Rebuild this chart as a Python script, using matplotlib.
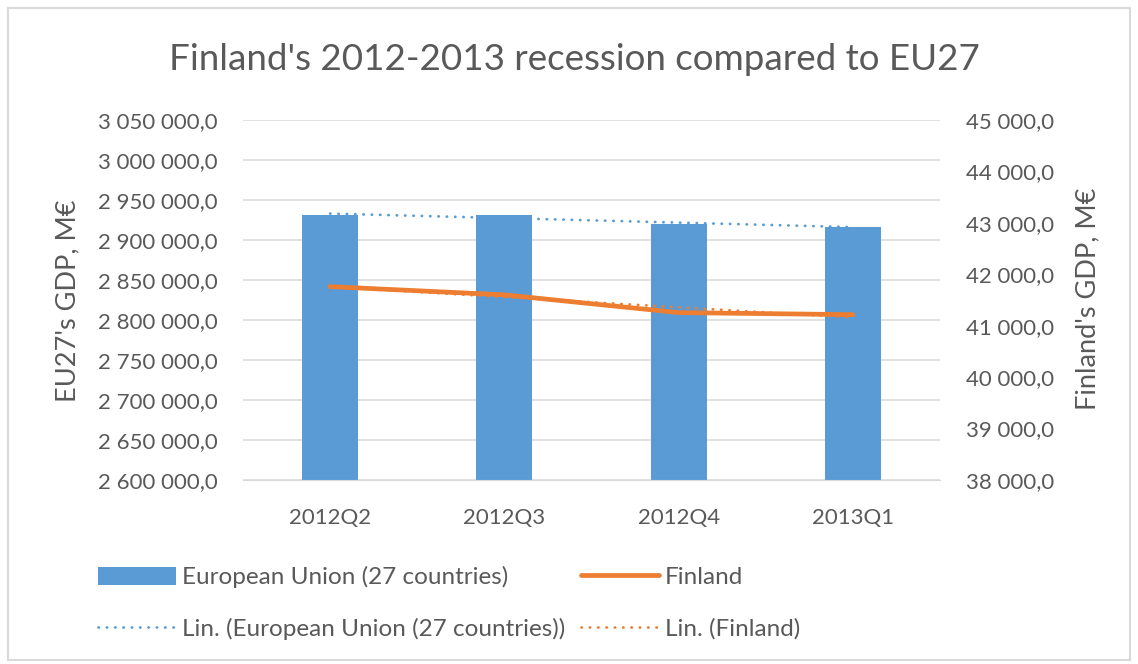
import numpy as np
import matplotlib
matplotlib.use("Agg")
import matplotlib.pyplot as plt
from matplotlib.ticker import FuncFormatter, MultipleLocator
from matplotlib.patches import Rectangle

# ---- data ----
quarters = ["2012Q2", "2012Q3", "2012Q4", "2013Q1"]
eu27_gdp = [2931300, 2931000, 2919600, 2916300]
finland_gdp = [41760, 41600, 41255, 41215]

title = "Finland's 2012-2013 recession compared to EU27"
left_label = "EU27's GDP, M€"
right_label = "Finland's GDP, M€"
legend_labels = ["European Union (27 countries)", "Finland",
                 "Lin. (European Union (27 countries))", "Lin. (Finland)"]

# ---- style ----
plt.rcParams['font.family'] = ['Lato', 'DejaVu Sans']
TXT = "#595959"
BLUE = "#5b9bd5"
ORANGE = "#ed7d31"
GRID = "#d9d9d9"

W, H = 1138, 664
fig = plt.figure(figsize=(W / 100, H / 100), dpi=100)
fig.patches.append(Rectangle((8 / W, 4 / H), (W - 16) / W, (H - 12) / H,
                             transform=fig.transFigure, fill=False,
                             edgecolor="#d9d9d9", linewidth=1.5))

ax = fig.add_axes([243 / W, (H - 480) / H, (940 - 243) / W, 360 / H])
ax2 = ax.twinx()

x = np.arange(len(quarters))
bars = ax.bar(x, eu27_gdp, width=0.32, color=BLUE, zorder=2)

# linear trendlines (as Excel's "Lin.")
p_eu = np.polyfit(x, eu27_gdp, 1)
p_fi = np.polyfit(x, finland_gdp, 1)
dots = (0, (0.1, 2.9))
tr_eu, = ax.plot(x, np.polyval(p_eu, x), color=BLUE, lw=2.0, linestyle=dots,
                 dash_capstyle="round", zorder=3)
tr_fi, = ax2.plot(x, np.polyval(p_fi, x), color=ORANGE, lw=2.0, linestyle=dots,
                  dash_capstyle="round", zorder=3)
fin_line, = ax2.plot(x, finland_gdp, color=ORANGE, lw=3.4,
                     solid_capstyle="round", zorder=4)

ax.set_xlim(-0.5, 3.5)
ax.set_ylim(2600000, 3050000)
ax2.set_ylim(38000, 45000)
ax.yaxis.set_major_locator(MultipleLocator(50000))
ax2.yaxis.set_major_locator(MultipleLocator(1000))

fmt = FuncFormatter(lambda v, p: f"{v:,.1f}".replace(",", " ").replace(".", ","))
ax.yaxis.set_major_formatter(fmt)
ax2.yaxis.set_major_formatter(fmt)

ax.set_xticks(x)
ax.set_xticklabels(quarters)
ax.grid(axis="y", color=GRID, lw=1.1, zorder=0)
ax.set_axisbelow(True)

for a in (ax, ax2):
    for s in a.spines.values():
        s.set_visible(False)
    a.tick_params(colors=TXT, labelsize=16, length=0)
ax.spines["bottom"].set_visible(True)
ax.spines["bottom"].set_color("#d9d9d9")
ax.tick_params(axis="y", pad=18)
ax2.tick_params(axis="y", pad=19)
ax.tick_params(axis="x", pad=20)

ax2.set_zorder(ax.get_zorder() + 1)
ax2.patch.set_visible(False)

fig.text(68 / W, 1 - 301 / H, left_label, rotation=90, ha="center", va="center",
         color=TXT, fontsize=19.5)
fig.text(1088 / W, 1 - 299 / H, right_label, rotation=90, ha="center", va="center",
         color=TXT, fontsize=19.5)
fig.text(574 / W, 1 - 59 / H, title, ha="center", va="center", color=TXT, fontsize=26.5)

handles = [bars, tr_eu, fin_line, tr_fi]
labels = [legend_labels[0], legend_labels[2], legend_labels[1], legend_labels[3]]
leg = fig.legend(handles, labels, ncol=2, loc="upper left",
                 bbox_to_anchor=(98 / W, 1 - 566 / H), frameon=False,
                 fontsize=17.5, labelcolor=TXT, handlelength=3.2, handleheight=0.75,
                 handletextpad=0.25, columnspacing=0.65, labelspacing=1.23,
                 borderaxespad=0, borderpad=0)

fig.savefig("out.png", dpi=100)
